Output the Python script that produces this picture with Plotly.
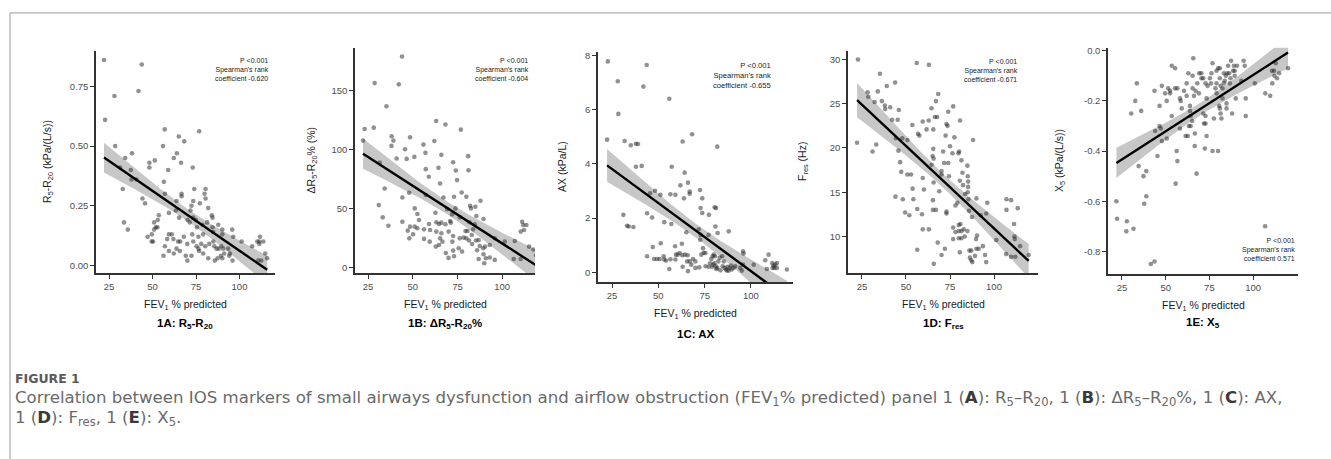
import numpy as np
import plotly.graph_objects as go

# ---------------- data ----------------
fev1_a = [22.1, 43.8, 22.7, 28.1, 41.9, 28.5, 57.0, 76.8, 65.1, 68.2, 56.0, 38.2, 34.3, 51.3, 48.2, 48.2,
          64.0, 62.2, 66.4, 73.1, 59.0, 31.3, 37.5, 37.9, 40.7, 32.9, 56.5, 57.1, 66.7, 66.7, 74.0, 80.5,
          79.9, 80.5, 73.4, 77.2, 72.4, 82.0, 44.2, 45.7, 63.8, 63.4, 71.8, 59.4, 53.6, 53.0, 50.9, 51.9,
          52.8, 50.9, 49.6, 33.6, 35.8, 65.3, 70.1, 71.4, 73.4, 74.9, 75.5, 78.7, 81.4, 84.1, 84.5, 87.8,
          90.1, 90.1, 84.5, 84.9, 79.1, 76.4, 59.4, 61.1, 58.4, 62.0, 64.7, 65.9, 68.0, 72.8, 73.4, 70.0,
          75.3, 76.4, 78.0, 80.3, 82.6, 84.9, 85.5, 86.8, 88.1, 89.5, 90.6, 91.2, 89.3, 90.1, 87.4, 85.8,
          82.0, 79.1, 76.8, 72.4, 69.1, 70.0, 65.7, 63.8, 62.2, 59.4, 56.3, 57.1, 49.5, 50.3, 47.2, 93.5,
          94.1, 95.8, 96.4, 94.5, 96.0, 101.2, 107.3, 110.2, 111.8, 111.4, 113.7, 111.4, 114.8, 110.8,
          112.5, 115.9]
r5r20 = [0.861, 0.842, 0.61, 0.71, 0.731, 0.50, 0.57, 0.562, 0.54, 0.52, 0.50, 0.47, 0.45, 0.44, 0.43, 0.41,
         0.47, 0.45, 0.43, 0.41, 0.40, 0.41, 0.40, 0.36, 0.36, 0.32, 0.35, 0.30, 0.30, 0.29, 0.32, 0.32,
         0.30, 0.28, 0.27, 0.26, 0.25, 0.24, 0.28, 0.26, 0.27, 0.23, 0.23, 0.22, 0.21, 0.19, 0.18, 0.16,
         0.16, 0.15, 0.13, 0.18, 0.15, 0.20, 0.19, 0.18, 0.20, 0.19, 0.16, 0.17, 0.18, 0.21, 0.20, 0.17,
         0.15, 0.13, 0.16, 0.14, 0.13, 0.12, 0.13, 0.13, 0.11, 0.11, 0.10, 0.10, 0.12, 0.13, 0.10, 0.09,
         0.08, 0.07, 0.09, 0.08, 0.09, 0.10, 0.08, 0.07, 0.07, 0.08, 0.07, 0.05, 0.04, 0.03, 0.03, 0.02,
         0.03, 0.05, 0.06, 0.04, 0.04, 0.02, 0.06, 0.07, 0.05, 0.06, 0.04, 0.08, 0.10, 0.10, 0.12, 0.07,
         0.04, 0.15, 0.12, 0.05, 0.02, 0.10, 0.08, 0.10, 0.12, 0.10, 0.10, 0.09, 0.05, 0.02,
         0.02, 0.03]

fev1_b = [44.0, 28.7, 42.2, 35.3, 23.1, 28.2, 22.2, 38.2, 39.2, 38.1, 48.5, 45.7, 46.6, 41.0, 50.9, 56.0,
          57.1, 63.1, 68.3, 76.9, 62.1, 66.0, 81.0, 72.6, 74.1, 81.2, 64.4, 57.3, 59.0, 65.3, 74.8, 77.4,
          80.0, 87.9, 67.2, 73.1, 57.3, 48.0, 44.2, 34.3, 31.5, 31.0, 33.2, 36.4, 44.2, 51.1, 52.6, 48.5,
          51.1, 52.6, 53.5, 47.2, 48.1, 50.2, 56.3, 56.3, 59.1, 59.7, 59.5, 62.7, 63.2, 64.7, 66.0, 63.2,
          66.0, 65.3, 66.6, 64.7, 62.9, 68.3, 70.9, 70.1, 71.3, 72.6, 72.0, 76.3, 73.9, 69.2, 72.2, 76.3,
          72.6, 73.1, 70.0, 68.5, 75.7, 77.6, 78.5, 79.5, 80.6, 80.0, 81.5, 81.7, 82.1, 82.6, 85.0, 85.6,
          84.7, 83.8, 83.0, 83.2, 85.4, 86.9, 87.5, 86.0, 86.9, 89.4, 90.5, 89.6, 90.9, 90.0, 89.6, 93.1,
          95.9, 93.1, 95.9, 101.5, 106.5, 107.1, 110.4, 111.2, 111.8, 113.6, 112.3, 115.1, 110.4, 117.5,
          119.0]
dr5r20 = [178.7, 156.2, 155.1, 136.5, 117.3, 118.4, 107.4, 111.1, 107.4, 102.9, 110.2, 100.1, 91.9, 92.2,
          93.6, 104.0, 97.0, 124.0, 121.0, 116.7, 107.1, 95.3, 94.2, 89.1, 82.0, 82.3, 84.3, 83.2, 76.7,
          71.0, 73.9, 63.4, 59.8, 56.4, 59.2, 59.8, 61.2, 63.2, 59.2, 66.8, 88.8, 52.7, 42.3, 35.2, 38.6,
          49.9, 45.1, 34.4, 34.4, 33.0, 40.0, 31.0, 24.5, 27.9, 32.1, 24.0, 36.6, 31.6, 21.7, 46.2, 38.1,
          36.6, 37.8, 30.2, 28.8, 24.5, 21.7, 18.9, 17.5, 36.4, 39.2, 30.2, 37.8, 26.5, 44.8, 42.3, 49.9,
          49.3, 21.7, 24.5, 14.1, 9.3, 7.9, 12.1, 16.1, 13.3, 25.1, 30.7, 30.7, 24.5, 22.6, 38.1, 52.2,
          49.9, 51.3, 43.4, 36.4, 32.1, 27.3, 19.7, 22.6, 23.1, 18.0, 14.4, 7.0, 16.1, 17.5, 11.0, 7.6,
          3.4, 40.9, 18.9, 24.5, 8.2, 6.2, 21.7, 7.0, 22.3, 30.2, 38.6, 35.8, 35.8, 31.6, 17.5, 7.0, 15.0,
          10.0]

fev1_c = [22.7, 28.1, 43.7, 41.9, 28.4, 55.9, 22.3, 31.8, 35.1, 37.8, 39.0, 68.2, 63.1, 81.8, 37.9, 41.0,
          57.2, 64.2, 66.0, 61.9, 63.8, 66.9, 66.9, 72.5, 73.7, 45.5, 48.2, 51.1, 56.5, 59.2, 43.9, 46.6,
          31.1, 33.1, 34.0, 36.5, 53.2, 57.0, 65.1, 72.8, 73.7, 77.3, 80.4, 81.1, 80.8, 82.0, 88.0, 71.8,
          72.8, 72.6, 77.1, 51.3, 47.0, 62.7, 59.0, 74.1, 74.5, 75.4, 43.9, 47.7, 49.3, 50.7, 52.9, 53.1,
          54.1, 56.5, 59.2, 59.5, 60.4, 61.5, 62.9, 64.4, 63.1, 55.9, 65.8, 65.5, 66.9, 68.7, 67.8, 66.0,
          70.0, 70.0, 72.1, 73.2, 75.5, 77.9, 78.6, 79.3, 79.9, 80.6, 77.2, 79.0, 79.7, 80.2, 81.0, 81.8,
          82.4, 83.1, 84.4, 85.3, 84.7, 85.8, 86.5, 87.4, 88.0, 88.5, 89.2, 89.6, 90.6, 91.5, 87.0, 83.5,
          81.3, 95.7, 96.0, 94.2, 95.7, 95.1, 101.5, 107.7, 109.5, 111.5, 112.2, 113.1, 114.0, 111.7,
          112.6, 114.0, 108.6, 119.4]
ax_c = [7.79, 7.06, 7.66, 6.86, 5.85, 6.41, 4.90, 4.85, 4.69, 4.75, 4.74, 5.10, 4.83, 4.64, 3.90, 3.93,
        3.90, 3.68, 3.31, 3.21, 2.73, 2.98, 2.90, 3.04, 2.73, 2.92, 3.01, 2.86, 2.88, 2.86, 2.18, 2.02,
        2.12, 1.72, 1.69, 1.67, 1.85, 1.78, 1.48, 2.37, 2.19, 2.12, 2.40, 2.37, 1.69, 1.45, 1.51, 1.59,
        1.38, 1.20, 1.38, 1.07, 0.93, 1.05, 0.96, 0.89, 0.72, 0.71, 0.59, 0.49, 0.49, 0.49, 0.59, 0.47,
        0.43, 0.48, 0.47, 0.65, 0.65, 0.71, 0.63, 0.65, 0.20, 0.12, 0.63, 0.40, 0.40, 0.49, 0.28, 0.04,
        0.16, 0.40, 0.18, 0.65, 0.22, 0.33, 0.49, 0.59, 0.65, 0.59, 0.20, 0.20, 0.28, 0.33, 0.22, 0.16,
        0.40, 0.53, 0.59, 0.40, 0.22, 0.16, 0.10, 0.20, 0.06, 0.16, 0.25, 0.10, 0.16, 0.22, 0.06, 0.07,
        0.12, 0.77, 0.69, 0.16, 0.28, 0.06, 0.28, 0.44, 0.65, 0.34, 0.25, 0.28, 0.34, 0.16,
        0.16, 0.16, 0.12, 0.10]

fev1_d = [22.7, 22.2, 28.2, 28.6, 32.2, 34.0, 35.2, 36.3, 38.0, 38.2, 41.0, 39.1, 43.8, 45.9, 42.1, 45.3,
          31.0, 33.1, 44.2, 47.9, 50.8, 45.7, 46.7, 47.3, 50.8, 52.9, 44.0, 48.2, 49.5, 51.9, 53.8, 54.2,
          53.6, 56.4, 56.4, 56.1, 56.8, 57.6, 59.5, 59.5, 59.1, 59.5, 63.0, 60.2, 61.7, 62.9, 63.0, 64.5,
          65.5, 65.5, 65.1, 67.0, 68.3, 66.4, 67.7, 65.7, 64.5, 65.7, 65.3, 65.3, 67.0, 68.0, 65.8, 68.9,
          70.2, 70.2, 71.1, 71.7, 72.5, 73.0, 73.6, 74.0, 74.0, 74.4, 75.0, 73.0, 73.0, 72.1, 70.2, 76.8,
          77.5, 76.4, 76.8, 76.8, 78.1, 78.1, 79.2, 79.8, 80.2, 80.7, 81.5, 80.6, 80.0, 80.9, 80.0, 81.5,
          80.0, 81.5, 82.1, 82.4, 83.6, 82.8, 83.4, 80.6, 84.9, 85.1, 85.3, 85.3, 85.1, 85.5, 85.8, 84.9,
          86.0, 87.1, 86.3, 87.1, 87.7, 87.5, 88.1, 89.8, 90.4, 90.0, 91.3, 89.2, 90.0, 92.4, 93.7, 94.9,
          95.6, 95.6, 96.2, 101.3, 107.1, 107.1, 109.7, 111.4, 111.6, 111.8, 113.5, 106.9, 109.7, 112.1,
          114.8, 119.7]
fres_d = [30.0, 20.6, 26.3, 25.8, 25.2, 26.4, 28.4, 25.3, 24.8, 24.4, 24.6, 27.0, 27.4, 24.3, 23.2, 23.2,
          19.6, 20.4, 21.1, 21.1, 20.9, 19.7, 18.4, 17.3, 17.0, 17.0, 14.5, 14.2, 12.7, 12.4, 15.4, 14.2,
          22.6, 13.1, 8.5, 29.6, 21.6, 21.4, 23.0, 16.6, 12.5, 10.8, 10.8, 15.3, 22.1, 23.1, 29.4, 24.5,
          22.1, 19.9, 19.1, 25.3, 26.1, 23.5, 23.5, 18.8, 18.1, 16.1, 14.1, 13.0, 13.0, 9.3, 6.9, 15.1,
          17.4, 17.0, 19.6, 18.3, 21.4, 22.7, 22.5, 24.1, 18.3, 16.8, 20.2, 12.8, 12.6, 8.6, 7.9, 24.7,
          21.2, 19.4, 11.0, 9.7, 10.5, 13.5, 13.8, 19.4, 19.6, 23.1, 18.6, 16.3, 11.3, 11.4, 9.8, 9.8,
          10.6, 10.6, 17.2, 15.8, 14.8, 10.8, 10.0, 8.2, 18.0, 16.8, 16.2, 15.6, 15.0, 14.2, 12.9, 10.6,
          8.4, 8.4, 7.6, 7.3, 7.1, 12.2, 20.9, 9.7, 10.1, 8.6, 8.6, 7.8, 14.3, 12.4, 8.9, 7.9,
          7.1, 12.6, 13.8, 9.6, 14.2, 13.0, 14.1, 11.4, 10.0, 9.7, 13.2, 8.0, 7.7, 7.7,
          8.9, 7.9]

fev1_e = [21.8, 22.2, 27.8, 27.5, 31.6, 41.5, 43.6, 37.3, 38.9, 37.7, 38.9, 34.5, 45.3, 55.7, 56.7, 56.3,
          67.7, 66.6, 72.4, 76.8, 80.0, 106.9, 30.3, 32.6, 33.5, 36.0, 43.6, 44.0, 46.5, 47.2, 47.8, 46.5,
          47.8, 49.7, 50.6, 51.4, 52.5, 52.5, 50.6, 53.5, 55.4, 55.4, 56.7, 53.5, 58.2, 58.6, 59.2, 58.2,
          60.5, 62.0, 62.0, 61.4, 62.6, 63.0, 63.9, 63.9, 64.3, 63.3, 64.3, 65.2, 65.8, 65.4, 65.4, 66.2,
          67.1, 66.7, 68.1, 69.2, 70.4, 69.0, 70.5, 71.5, 71.5, 71.9, 72.8, 72.8, 73.4, 74.0, 73.4, 72.8,
          75.3, 75.9, 76.2, 76.8, 77.6, 78.5, 79.1, 79.1, 79.1, 80.0, 81.0, 81.0, 81.4, 80.6, 81.0, 81.4,
          81.9, 82.5, 82.5, 83.3, 83.3, 83.8, 84.4, 84.8, 84.8, 85.2, 85.7, 86.3, 86.7, 87.1, 87.4, 88.0,
          88.6, 89.0, 89.5, 89.5, 90.1, 90.8, 94.6, 95.2, 95.8, 95.8, 93.3, 101.0, 107.0, 109.8, 110.8,
          111.0, 112.0, 112.2, 113.0, 113.7, 114.9, 120.0]
x5_e = [-0.60, -0.67, -0.68, -0.72, -0.71, -0.85, -0.84, -0.50, -0.48, -0.61, -0.58, -0.46, -0.42, -0.53,
        -0.44, -0.40, -0.49, -0.38, -0.39, -0.40, -0.40, -0.70, -0.25, -0.20, -0.13, -0.24, -0.16, -0.32,
        -0.30, -0.31, -0.36, -0.22, -0.14, -0.17, -0.20, -0.15, -0.16, -0.17, -0.35, -0.06, -0.07, -0.15,
        -0.15, -0.26, -0.19, -0.20, -0.23, -0.31, -0.16, -0.13, -0.18, -0.34, -0.34, -0.09, -0.22, -0.24,
        -0.26, -0.30, -0.30, -0.28, -0.03, -0.10, -0.15, -0.18, -0.16, -0.33, -0.13, -0.09, -0.09, -0.17,
        -0.11, -0.11, -0.25, -0.29, -0.29, -0.13, -0.19, -0.14, -0.34, -0.26, -0.11, -0.13, -0.09, -0.05,
        -0.27, -0.15, -0.17, -0.13, -0.08, -0.07, -0.07, -0.11, -0.14, -0.22, -0.23, -0.25, -0.27, -0.19,
        -0.15, -0.13, -0.09, -0.12, -0.10, -0.21, -0.23, -0.09, -0.06, -0.09, -0.13, -0.11, -0.04, -0.25,
        -0.08, -0.06, -0.10, -0.08, -0.19, -0.06, -0.04, -0.06, -0.19, -0.26, -0.12, -0.13, -0.17, -0.18,
        -0.08, -0.13, -0.08, -0.10, -0.05, -0.11, -0.09, -0.07]

x_ticks = [25, 50, 75, 100]
y_ticks_a = [0.0, 0.25, 0.5, 0.75]
y_ticklabels_a = ["0.00", "0.25", "0.50", "0.75"]
y_ticks_b = [0, 50, 100, 150]
y_ticklabels_b = ["0", "50", "100", "150"]
y_ticks_c = [0, 2, 4, 6, 8]
y_ticklabels_c = ["0", "2", "4", "6", "8"]
y_ticks_d = [10, 15, 20, 25, 30]
y_ticklabels_d = ["10", "15", "20", "25", "30"]
y_ticks_e = [-0.8, -0.6, -0.4, -0.2, 0.0]
y_ticklabels_e = ["-0.8", "-0.6", "-0.4", "-0.2", "0.0"]

stats_text = ["P <0.001<br>Spearman's rank<br>coefficient -0.620",
              "P <0.001<br>Spearman's rank<br>coefficient -0.604",
              "P <0.001<br>Spearman's rank<br>coefficient -0.655",
              "P <0.001<br>Spearman's rank<br>coefficient -0.671",
              "P <0.001<br>Spearman's rank<br>coefficient 0.571"]
y_titles = ["R<sub>5</sub>-R<sub>20</sub> (kPa/(L/s))", "ΔR<sub>5</sub>-R<sub>20</sub>% (%)",
            "AX (kPa/L)", "F<sub>res</sub> (Hz)", "X<sub>5</sub> (kPa/(L/s))"]
panel_labels = ["<b>1A: R<sub>5</sub>-R<sub>20</sub></b>", "<b>1B: ΔR<sub>5</sub>-R<sub>20</sub>%</b>",
                "<b>1C: AX</b>", "<b>1D: F<sub>res</sub></b>", "<b>1E: X<sub>5</sub></b>"]
x_title = "FEV<sub>1</sub> % predicted"

# ---------------- layout geometry (pixels) ----------------
W, H = 1331, 459
panels = [
    dict(x=fev1_a, y=r5r20, px=(96, 275), py=(48, 272), xr=(17.5, 120.4), yr=(-0.033, 0.90),
         yt=y_ticks_a, ytl=y_ticklabels_a, ytx=48, xt_y=304, pl_y=323,
         st=(271, 52, 'top'), st_size=7),
    dict(x=fev1_b, y=dr5r20, px=(355, 535), py=(45, 272), xr=(17.7, 118.4), yr=(-5.1, 186.2),
         yt=y_ticks_b, ytl=y_ticklabels_b, ytx=312, xt_y=304, pl_y=323,
         st=(531, 52, 'top'), st_size=7),
    dict(x=fev1_c, y=ax_c, px=(598, 793), py=(49, 281), xr=(17.4, 122.7), yr=(-0.367, 8.15),
         yt=y_ticks_c, ytl=y_ticklabels_c, ytx=562, xt_y=313, pl_y=333,
         st=(773, 56, 'top'), st_size=7.6),
    dict(x=fev1_d, y=fres_d, px=(848, 1038), py=(48, 272), xr=(17.05, 125.0), yr=(5.84, 31.0),
         yt=y_ticks_d, ytl=y_ticklabels_d, ytx=803, xt_y=304, pl_y=323,
         st=(1020, 53, 'top'), st_size=7),
    dict(x=fev1_e, y=x5_e, px=(1108, 1298), py=(45, 273), xr=(17.0, 125.7), yr=(-0.891, 0.012),
         yt=y_ticks_e, ytl=y_ticklabels_e, ytx=1060, xt_y=305, pl_y=322,
         st=(1297, 263, 'bottom'), st_size=7),
]

fig = go.Figure()
annotations = []
axis_col = '#333333'
sans = "Liberation Sans, Arial, Helvetica, sans-serif"
tick_font = dict(family=sans, size=9.5, color='#4d4d4d')
lab_font = dict(family=sans, size=10.5, color='#1a1a1a')

for i, p in enumerate(panels):
    n = '' if i == 0 else str(i + 1)
    xa, ya = 'x' + n, 'y' + n
    x = np.array(p['x'], float)
    y = np.array(p['y'], float)
    # linear fit with 95% confidence band (like geom_smooth(method='lm'))
    b1, b0 = np.polyfit(x, y, 1)
    resid = y - (b0 + b1 * x)
    s = np.sqrt(np.sum(resid ** 2) / (len(x) - 2))
    xs = np.linspace(x.min(), x.max(), 100)
    sxx = np.sum((x - x.mean()) ** 2)
    se = s * np.sqrt(1 / len(x) + (xs - x.mean()) ** 2 / sxx)
    fit = b0 + b1 * xs
    t = 1.977
    up, lo = fit + t * se, fit - t * se
    fig.add_trace(go.Scatter(x=np.concatenate([xs, xs[::-1]]), y=np.concatenate([up, lo[::-1]]),
                             fill='toself', fillcolor='rgba(153,153,153,0.55)', line=dict(width=0),
                             mode='lines', hoverinfo='skip', showlegend=False, xaxis=xa, yaxis=ya))
    fig.add_trace(go.Scatter(x=x, y=y, mode='markers',
                             marker=dict(size=4.6, color='rgba(35,35,35,0.5)', line=dict(width=0)),
                             showlegend=False, xaxis=xa, yaxis=ya))
    fig.add_trace(go.Scatter(x=xs, y=fit, mode='lines', line=dict(color='black', width=2.4),
                             showlegend=False, xaxis=xa, yaxis=ya))

    dx = [p['px'][0] / W, p['px'][1] / W]
    dy = [1 - p['py'][1] / H, 1 - p['py'][0] / H]
    fig.layout['xaxis' + n] = dict(domain=dx, range=list(p['xr']), anchor=ya, showline=True,
                                   linecolor=axis_col, linewidth=1.5, ticks='outside', ticklen=4,
                                   tickwidth=1.3, tickcolor=axis_col, tickvals=x_ticks,
                                   tickfont=tick_font, showgrid=False, zeroline=False, fixedrange=True)
    fig.layout['yaxis' + n] = dict(domain=dy, range=list(p['yr']), anchor=xa, showline=True,
                                   linecolor=axis_col, linewidth=1.5, ticks='outside', ticklen=4,
                                   tickwidth=1.3, tickcolor=axis_col, tickvals=p['yt'],
                                   ticktext=p['ytl'], tickfont=tick_font, showgrid=False,
                                   zeroline=False, fixedrange=True)
    cx = (p['px'][0] + p['px'][1]) / 2 / W
    annotations.append(dict(text=x_title, x=cx, y=1 - p['xt_y'] / H, xref='paper', yref='paper',
                            xanchor='center', yanchor='middle', showarrow=False, font=lab_font))
    annotations.append(dict(text=panel_labels[i], x=cx, y=1 - p['pl_y'] / H, xref='paper',
                            yref='paper', xanchor='center', yanchor='middle', showarrow=False,
                            font=dict(family=sans, size=11.5, color='black')))
    cy = 1 - (p['py'][0] + p['py'][1]) / 2 / H
    annotations.append(dict(text=y_titles[i], x=p['ytx'] / W, y=cy, xref='paper', yref='paper',
                            xanchor='center', yanchor='middle', textangle=-90, showarrow=False,
                            font=lab_font))
    sx, sy, anc = p['st']
    annotations.append(dict(text=stats_text[i], x=sx / W, y=1 - sy / H, xref='paper', yref='paper',
                            xanchor='right', yanchor=anc, align='right', showarrow=False,
                            font=dict(family="Liberation Sans Narrow, Liberation Sans, Arial",
                                      size=p['st_size'], color='#222222')))

# caption
cap_font = "DejaVu Sans, Open Sans, sans-serif"
cap_col = '#6a6a6a'
dark = '#3a3a3a'
annotations.append(dict(text="<b>FIGURE 1</b>", x=13 / W, y=1 - 378 / H, xref='paper', yref='paper',
                        xanchor='left', yanchor='middle', showarrow=False,
                        font=dict(family=cap_font, size=12.5, color='#5a5a5a')))


def bold_letter(ch):
    return "<span style='color:" + dark + "'><b>" + ch + "</b></span>"


line1 = ("Correlation between IOS markers of small airways dysfunction and airflow obstruction "
         "(FEV<sub>1</sub>% predicted) panel 1 (" + bold_letter("A") + "): R<sub>5</sub>–R<sub>20</sub>, "
         "1 (" + bold_letter("B") + "): ΔR<sub>5</sub>–R<sub>20</sub>%, "
         "1 (" + bold_letter("C") + "): AX,")
line2 = ("1 (" + bold_letter("D") + "): F<sub>res</sub>, "
         "1 (" + bold_letter("E") + "): X<sub>5</sub>.")
for txt, yy in [(line1, 398), (line2, 418)]:
    annotations.append(dict(text=txt, x=13 / W, y=1 - yy / H, xref='paper', yref='paper',
                            xanchor='left', yanchor='middle', showarrow=False,
                            font=dict(family=cap_font, size=16.6, color=cap_col)))

shapes = [
    dict(type='line', xref='paper', yref='paper', x0=10 / W, x1=1.0, y0=1 - 10 / H, y1=1 - 10 / H,
         line=dict(color='#999999', width=1)),
    dict(type='line', xref='paper', yref='paper', x0=10 / W, x1=10 / W, y0=1 - 10 / H, y1=0,
         line=dict(color='#999999', width=1)),
]

fig.update_layout(width=W, height=H, margin=dict(l=0, r=0, t=0, b=0), paper_bgcolor='white',
                  plot_bgcolor='white', annotations=annotations, shapes=shapes, showlegend=False)
fig.write_html("out.html", config=dict(displayModeBar=False),
               post_script="document.body.style.margin='0';document.body.style.padding='0';")
